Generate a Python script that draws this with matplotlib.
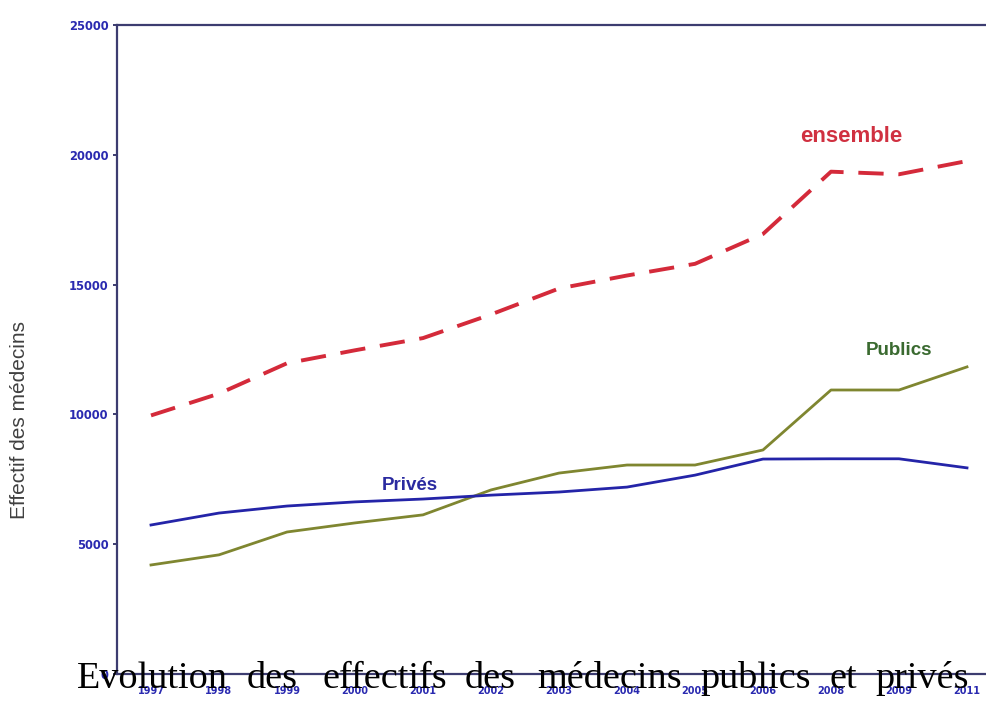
import numpy as np
import matplotlib
matplotlib.use("Agg")
import matplotlib.pyplot as plt

# data
years = ["1997", "1998", "1999", "2000", "2001", "2002", "2003",
         "2004", "2005", "2006", "2008", "2009", "2011"]
prives = [5740, 6200, 6470, 6630, 6740, 6890, 7010, 7200, 7660, 8280, 8290, 8290, 7940]
publics = [4200, 4590, 5470, 5820, 6130, 7090, 7740, 8050, 8050, 8630, 10940, 10940, 11830]
ensemble = [9960, 10800, 11970, 12470, 12940, 13850, 14850, 15350, 15800, 16950, 19350, 19250, 19760]

title_words = ["Evolution", "des", "effectifs", "des", "médecins", "publics", "et", "privés"]

W, H = 987, 701
fig = plt.figure(figsize=(W / 100, H / 100), dpi=100)

# axes box in pixels: left 117, top 25, bottom 674, right edge runs off the picture
left, top, bottom, right = 117, 25, 674, 1001
ax = fig.add_axes([left / W, 1 - bottom / H, (right - left) / W, (bottom - top) / H])

x = np.arange(len(years))
ax.plot(x, ensemble, color="#d42a3a", lw=2.8, dashes=(6.5, 3.8), zorder=3)
ax.plot(x, publics, color="#7f8630", lw=2.0, zorder=3)
ax.plot(x, prives, color="#2424a8", lw=2.0, zorder=3)

ax.set_xlim(-0.5, len(years) - 0.5)
ax.set_ylim(0, 25000)
ax.set_yticks(np.arange(0, 25001, 5000))
ax.set_xticks(x)
ax.set_xticklabels(years)

spine_col = "#3c3c70"
for side in ["left", "top", "bottom"]:
    ax.spines[side].set_color(spine_col)
    ax.spines[side].set_linewidth(1.6)
ax.spines["right"].set_visible(False)

ax.tick_params(axis="y", direction="out", length=3, width=1.4, color=spine_col,
               labelcolor="#2a2ab0", labelsize=8.3, pad=3)
ax.tick_params(axis="x", direction="out", length=0, labelcolor="#2a2ab0",
               labelsize=7, pad=9)
for lab in ax.get_xticklabels() + ax.get_yticklabels():
    lab.set_fontweight("bold")
    lab.set_fontfamily("Liberation Sans Narrow")

fig.text(20 / W, 1 - 420 / H, "Effectif des médecins", rotation=90,
         ha="center", va="center", fontsize=15, color="#404040",
         family="Liberation Sans")

# series labels
ax.text(10.3, 20690, "ensemble", color="#d03040", fontsize=16, fontweight="bold",
        ha="center", va="center", family="Liberation Sans")
ax.text(11.0, 12480, "Publics", color="#3a6a30", fontsize=13.5, fontweight="bold",
        ha="center", va="center", family="Liberation Sans")
ax.text(3.8, 7280, "Privés", color="#2a2aa0", fontsize=13.5, fontweight="bold",
        ha="center", va="center", family="Liberation Sans")

# justified caption drawn over the bottom of the chart
word_x = [77, 247, 323, 465, 537, 700, 830, 875]
for wx, word in zip(word_x, title_words):
    fig.text(wx / W, 1 - 688 / H, word, ha="left", va="baseline",
             fontsize=27.5, color="black", family="Liberation Serif", zorder=10)

fig.savefig("out.png", dpi=100)
